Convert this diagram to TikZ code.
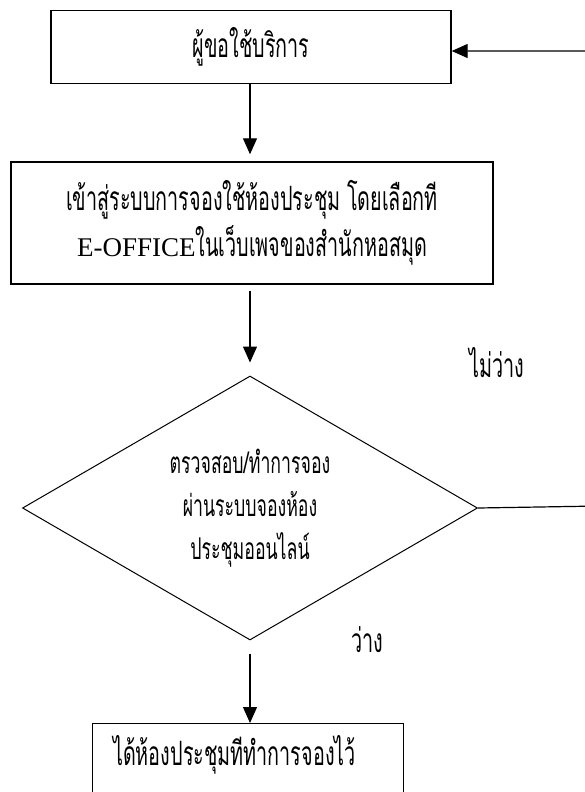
\documentclass[tikz,border=0pt]{standalone}
\usepackage{fontspec}
\setmainfont{Liberation Serif}
\newfontfamily\thaifont[Script=Thai,FakeStretch=0.59]{Loma}
\usetikzlibrary{positioning}
\usetikzlibrary{arrows.meta}
\usetikzlibrary{shapes.geometric}
\begin{document}
\begin{tikzpicture}[x=1pt, y=-1pt,
    every node/.style={inner sep=0pt, font=\thaifont\fontsize{33.5}{46}\selectfont},
    stepbox/.style={draw, line width=1.4pt},
    arr/.style={-{Triangle[width=14pt,length=16pt]}, line width=1.2pt}]
    \useasboundingbox (0,0) rectangle (585,792);
    \clip (0,0) rectangle (585,792);
    \node[stepbox, minimum width=400pt, minimum height=73pt] (user) at (251,47) {ผู้ขอใช้บริการ};
    \node[stepbox, minimum width=482pt, minimum height=122pt, align=center] (web) at (252,223)
        {เข้าสู่ระบบการจองใช้ห้องประชุม โดยเลือกที\\{\rmfamily\fontsize{27}{46}\selectfont E-OFFICE}ในเว็บเพจของสำนักหอสมุด};
    \node[draw, line width=1pt, shape=diamond, aspect=1.72, minimum width=455pt, minimum height=264pt,
        align=center, font=\thaifont\fontsize{30}{43}\selectfont] (check) at (250,508)
        {ตรวจสอบ/ทำการจอง\\ผ่านระบบจองห้อง\\ประชุมออนไลน์};
    \node[stepbox, minimum width=311pt, minimum height=110pt, anchor=north west] (room) at (92,723) {};
    \node[anchor=west] (roomtext) at (113,755) {ได้ห้องประชุมทีทำการจองไว้};
    \node (busy) at (497,363) {ไม่ว่าง};
    \node (free) at (367,640) {ว่าง};
    \coordinate (back) at (600,506);
    \draw[arr, shorten >=7pt] (user.south -| check.north) -- (web.north -| check.north);
    \draw[arr, shorten <=6pt, shorten >=13pt] (web.south -| check.north) -- (check.north);
    \draw[arr, shorten <=13pt] (check.south) -- (check.south |- room.north);
    \draw[arr] (check.east) -- (back) |- ([yshift=-4pt]user.east);
\end{tikzpicture}
\end{document}
